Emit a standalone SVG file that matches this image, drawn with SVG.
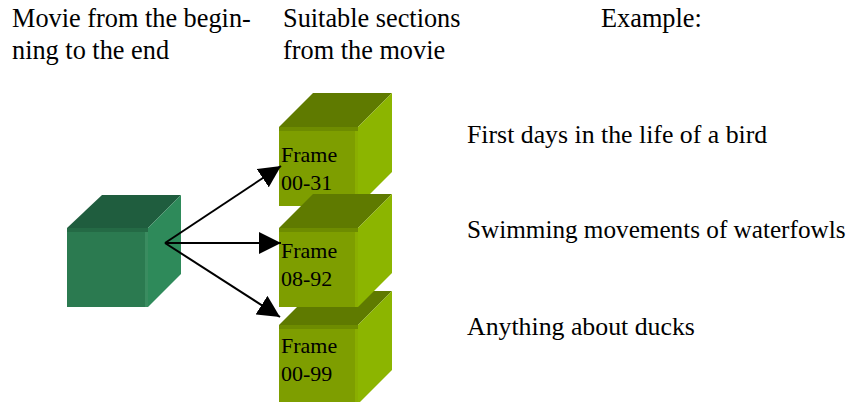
<svg xmlns="http://www.w3.org/2000/svg" width="851" height="402" viewBox="0 0 851 402">
<defs>
<style>
text{font-family:"Liberation Serif","Times New Roman",serif;fill:#000}
.hdr{font-size:26.3px}
.ex{font-size:25.8px}
.ex2{font-size:25.2px}
.fr{font-size:22px}
.conn{stroke:#000;stroke-width:2;fill:none}
.dk .front{fill:#2B7A50}
.dk .top{fill:#1F5D3E}
.dk .right{fill:#2E8A5A}
.dk .hi{fill:#3A8C60}
.dk .sh{fill:#246A45}
.gr .front{fill:#7E9E00}
.gr .top{fill:#5F7A00}
.gr .right{fill:#8CB500}
.gr .hi{fill:#8AAE00}
.gr .sh{fill:#6E8C00}
</style>
<marker id="ah" viewBox="0 0 22 22" refX="22" refY="11" markerWidth="22" markerHeight="22" markerUnits="userSpaceOnUse" orient="auto">
<path d="M0,0 L22,11 L0,22 Z" fill="#000"/>
</marker>
</defs>
<rect width="851" height="402" fill="#fff"/>

<g id="labels">
<text class="hdr" x="12" y="27">Movie from the begin-</text>
<text class="hdr" x="12" y="59">ning to the end</text>
<text class="hdr" x="283" y="27">Suitable sections</text>
<text class="hdr" x="283" y="59">from the movie</text>
<text class="hdr" x="601" y="27">Example:</text>
</g>

<g id="movie" class="dk">
<polygon class="top" points="67,228 102,195 181,195 148,228"/>
<polygon class="right" points="148,228 181,195 181,274 148,307"/>
<rect class="front" x="67" y="228" width="81" height="79"/>
<rect class="sh" x="67" y="228" width="81" height="4"/>
<rect class="hi" x="145" y="232" width="3" height="75"/>
</g>

<g id="frame1" class="gr">
<polygon class="top" points="279,127 313,93 392,93 358,127"/>
<polygon class="right" points="358,127 392,93 392,172 358,206"/>
<rect class="front" x="279" y="127" width="79" height="79"/>
<rect class="sh" x="279" y="127" width="79" height="4"/>
<rect class="hi" x="355" y="131" width="3" height="75"/>
<text class="fr" x="281" y="162">Frame</text>
<text class="fr" x="281" y="190">00-31</text>
</g>

<g id="frame3" class="gr">
<polygon class="top" points="279,325 313,291 392,291 358,325"/>
<polygon class="right" points="358,325 392,291 392,370 358,404"/>
<rect class="front" x="279" y="325" width="79" height="79"/>
<rect class="sh" x="279" y="325" width="79" height="4"/>
<rect class="hi" x="355" y="329" width="3" height="75"/>
<text class="fr" x="281" y="353">Frame</text>
<text class="fr" x="281" y="381">00-99</text>
</g>

<g id="frame2" class="gr">
<polygon class="top" points="279,228 313,194 392,194 358,228"/>
<polygon class="right" points="358,228 392,194 392,273 358,307"/>
<rect class="front" x="279" y="228" width="79" height="79"/>
<rect class="sh" x="279" y="228" width="79" height="4"/>
<rect class="hi" x="355" y="232" width="3" height="75"/>
<text class="fr" x="281" y="258">Frame</text>
<text class="fr" x="281" y="286">08-92</text>
</g>

<g id="connectors">
<line class="conn" x1="165" y1="243" x2="281" y2="166" marker-end="url(#ah)"/>
<line class="conn" x1="165" y1="243" x2="281" y2="243" marker-end="url(#ah)"/>
<line class="conn" x1="165" y1="243" x2="280" y2="317" marker-end="url(#ah)"/>
</g>

<g id="examples">
<text class="ex" x="467" y="143">First days in the life of a bird</text>
<text class="ex2" x="467" y="238">Swimming movements of waterfowls</text>
<text class="ex" x="467" y="335">Anything about ducks</text>
</g>
</svg>
